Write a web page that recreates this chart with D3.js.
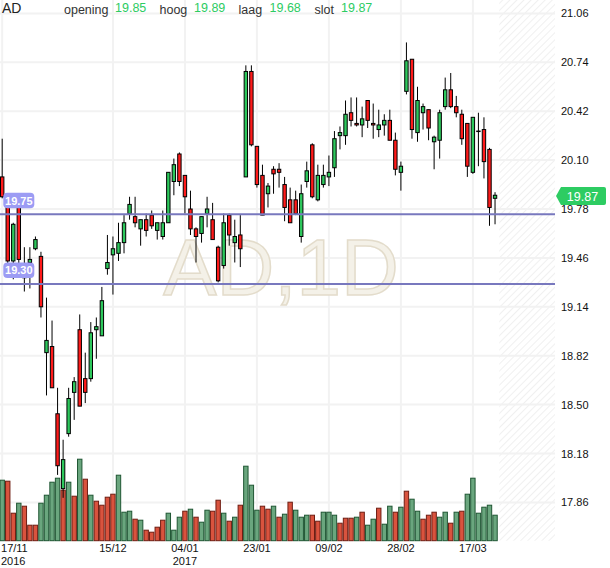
<!DOCTYPE html>
<html>
<head>
<meta charset="utf-8">
<script src="https://cdn.jsdelivr.net/npm/d3@7"></script>
<style>
  body { margin: 0; background: #fff; }
  svg { display: block; font-family: "Liberation Sans", Arial, sans-serif; }
</style>
</head>
<body>
<svg id="chart" width="610" height="568"></svg>
<script>
// daily candles, AD, 17/11/2016 .. 23/03/2017
const open = [19.99, 19.86, 19.44, 19.82, 19.36, 19.43, 19.52, 19.47, 18.84, 18.88,
  18.44, 17.95, 18.31, 18.58, 18.99, 18.67, 18.67, 18.99, 18.95, 19.39,
  19.48, 19.49, 19.56, 19.75, 19.73, 19.65, 19.71, 19.74, 19.64, 19.60,
  19.69, 19.96, 20.14, 20.00, 19.78, 19.65, 19.62, 19.75, 19.71, 19.53,
  19.41, 19.74, 19.56, 19.61, 19.99, 20.68, 20.19, 20.00, 19.88, 20.04,
  20.04, 19.94, 19.84, 19.84, 19.60, 19.96, 20.20, 19.84, 19.94, 19.99,
  20.05, 20.26, 20.26, 20.41, 20.34, 20.33, 20.49, 20.34, 20.30, 20.33,
  20.36, 20.23, 20.02, 20.55, 20.76, 20.28, 20.41, 20.43, 20.22, 20.23,
  20.45, 20.56, 20.45, 20.40, 20.34, 20.02, 20.29, 20.30, 20.17, 19.85];
const high = [20.24, 19.87, 19.69, 19.84, 19.53, 19.53, 19.60, 19.50, 19.20, 19.05,
  18.61, 18.27, 18.61, 18.68, 19.09, 18.84, 19.04, 19.07, 19.27, 19.61,
  19.60, 19.69, 19.74, 19.86, 19.86, 19.71, 19.75, 19.77, 19.69, 19.77,
  20.02, 20.11, 20.15, 20.00, 19.90, 19.66, 19.73, 19.86, 19.82, 19.54,
  19.75, 19.75, 19.71, 19.74, 20.72, 20.72, 20.19, 20.07, 19.95, 20.06,
  20.08, 19.99, 19.92, 19.90, 19.94, 20.09, 20.21, 20.07, 20.07, 20.13,
  20.29, 20.32, 20.49, 20.51, 20.51, 20.45, 20.49, 20.47, 20.43, 20.40,
  20.43, 20.28, 20.09, 20.87, 20.76, 20.58, 20.47, 20.43, 20.26, 20.43,
  20.64, 20.67, 20.52, 20.43, 20.34, 20.38, 20.41, 20.38, 20.18, 19.89];
const low = [19.85, 19.41, 19.32, 19.41, 19.24, 19.26, 19.51, 19.07, 18.56, 18.61,
  18.04, 17.89, 18.29, 18.40, 18.49, 18.51, 18.65, 18.80, 18.95, 19.35,
  19.22, 19.44, 19.49, 19.71, 19.66, 19.54, 19.60, 19.65, 19.58, 19.58,
  19.69, 19.87, 19.93, 19.75, 19.61, 19.43, 19.56, 19.66, 19.58, 19.30,
  19.39, 19.54, 19.43, 19.40, 19.99, 20.19, 19.92, 19.74, 19.79, 19.88,
  19.92, 19.70, 19.69, 19.74, 19.56, 19.92, 19.85, 19.83, 19.92, 19.93,
  19.99, 20.17, 20.20, 20.32, 20.32, 20.25, 20.31, 20.24, 20.25, 20.26,
  20.23, 20.00, 19.90, 20.53, 20.24, 20.22, 20.30, 20.23, 20.04, 20.11,
  20.43, 20.44, 20.38, 20.20, 19.99, 20.01, 20.06, 19.98, 19.67, 19.68];
const close = [19.86, 19.44, 19.68, 19.45, 19.33, 19.45, 19.58, 19.14, 18.92, 18.61,
  18.10, 18.14, 18.54, 18.65, 18.49, 18.58, 18.97, 19.01, 19.18, 19.43,
  19.52, 19.56, 19.69, 19.81, 19.69, 19.71, 19.64, 19.67, 19.69, 19.69,
  20.02, 20.07, 19.96, 19.86, 19.65, 19.60, 19.73, 19.78, 19.58, 19.31,
  19.69, 19.61, 19.60, 19.52, 20.68, 20.20, 19.94, 19.74, 19.93, 20.01,
  20.02, 19.79, 19.69, 19.75, 19.88, 20.03, 19.86, 20.00, 20.00, 20.02,
  20.24, 20.28, 20.40, 20.36, 20.33, 20.37, 20.36, 20.33, 20.33, 20.36,
  20.23, 20.04, 20.06, 20.75, 20.30, 20.49, 20.45, 20.31, 20.25, 20.41,
  20.56, 20.45, 20.41, 20.24, 20.06, 20.38, 20.29, 20.09, 19.79, 19.87];
// volume (millions) and bar colour as shown
const volume = [12.1, 11.9, 5.5, 7.5, 6.9, 3.1, 3.1, 7.5, 9.1, 11.7,
  12.5, 10.1, 11.7, 8.9, 16.3, 12.3, 9.1, 7.9, 7.1, 8.7,
  9.3, 13.1, 5.7, 5.9, 4.3, 4.1, 2.1, 1.7, 2.7, 4.1,
  5.5, 2.1, 4.7, 5.9, 6.3, 4.7, 3.7, 6.1, 5.9, 8.1,
  5.5, 3.9, 4.7, 7.1, 14.9, 11.1, 6.1, 6.9, 6.3, 6.9,
  4.7, 5.3, 7.7, 6.1, 4.7, 5.1, 5.1, 3.9, 5.7, 5.7,
  5.1, 3.5, 4.5, 4.5, 4.7, 5.7, 3.1, 4.3, 6.5, 3.3,
  6.9, 5.7, 6.7, 9.9, 8.3, 5.9, 4.3, 5.1, 5.7, 4.7,
  5.7, 3.5, 5.7, 5.9, 9.3, 12.5, 5.5, 6.7, 7.1, 5.1];
const volUp = "urrurrruuuururururrrruuururrrruuururuurrururuuurrururuuurruuurrruruuruururuurrruururuuuuuuurr".slice(0, 90);

const priceTicks = [17.86, 18.18, 18.50, 18.82, 19.14, 19.46, 19.78, 20.10, 20.42, 20.74, 21.06];
const dateTickIdx = [0, 20, 33, 46, 59, 72, 85];
const dateTickLabels = ["17/11", "15/12", "04/01", "23/01", "09/02", "28/02", "17/03"];
const yearTicks = [[0, "2016"], [33, "2017"]];
const levels = [19.745, 19.29];
const levelLabels = ["19.75", "19.30"];
const symbol = "AD";
const watermark = "AD,1D";

const green = "#2dc85c", red = "#ff1a1a";
const svg = d3.select("#chart");
const plotRight = 555, volBase = 540.7;

const x = d3.scaleBand().domain(d3.range(open.length)).range([-0.57, 497.8]);
const cx = (i) => x(i) + x.bandwidth() / 2;
const y = d3.scaleLinear().domain([17.86, 21.06]).range([502.4, 13.4]);
const yVol = d3.scaleLinear().domain([0, 20]).range([volBase, volBase - 100]);

// hatched "future" zone
const defs = svg.append("defs");
const pat = defs.append("pattern").attr("id", "hatch")
  .attr("patternUnits", "userSpaceOnUse").attr("width", 5).attr("height", 5)
  .attr("patternTransform", "rotate(45)");
pat.append("line").attr("x1", 0).attr("y1", 0).attr("x2", 0).attr("y2", 5)
  .attr("stroke", "#ededed").attr("stroke-width", 1.6);
svg.append("rect").attr("x", x.range()[1] + 1.5).attr("y", 0)
  .attr("width", plotRight - x.range()[1] - 1.5).attr("height", volBase)
  .attr("fill", "url(#hatch)");

// grid
svg.append("g").selectAll("line").data(priceTicks).join("line")
  .attr("x1", 0).attr("x2", plotRight)
  .attr("y1", (d) => y(d)).attr("y2", (d) => y(d))
  .attr("stroke", "#f2f2f2").attr("stroke-width", 2);
svg.append("g").selectAll("line").data(dateTickIdx).join("line")
  .attr("x1", (d) => cx(d)).attr("x2", (d) => cx(d))
  .attr("y1", 0).attr("y2", volBase)
  .attr("stroke", "#f2f2f2").attr("stroke-width", 2);

// watermark
svg.append("text").attr("x", 281).attr("y", 295)
  .attr("text-anchor", "middle").attr("font-size", 80)
  .attr("fill", "#f4f1e8").attr("stroke", "#e3dccb").attr("stroke-width", 1.5)
  .text(watermark);

// volume
svg.append("g").selectAll("rect").data(volume).join("rect")
  .attr("x", (d, i) => cx(i) - 2.2)
  .attr("y", (d) => yVol(d))
  .attr("width", 4.4)
  .attr("height", (d) => yVol(0) - yVol(d))
  .attr("fill", (d, i) => volUp[i] === "u" ? "#6aa67e" : "#d9533e")
  .attr("stroke", (d, i) => volUp[i] === "u" ? "#1f5633" : "#6e1d12")
  .attr("stroke-width", 1);

// candles
const idx = d3.range(open.length);
svg.append("g").selectAll("line").data(idx).join("line")
  .attr("x1", (i) => cx(i)).attr("x2", (i) => cx(i))
  .attr("y1", (i) => y(high[i])).attr("y2", (i) => y(low[i]))
  .attr("stroke", "#000").attr("stroke-width", 1);
svg.append("g").selectAll("rect").data(idx).join("rect")
  .attr("x", (i) => cx(i) - 1.7)
  .attr("y", (i) => y(Math.max(open[i], close[i])))
  .attr("width", 3.4)
  .attr("height", (i) => Math.max(0.5, Math.abs(y(open[i]) - y(close[i]))))
  .attr("fill", (i) => close[i] >= open[i] ? green : red)
  .attr("stroke", "#000").attr("stroke-width", 1);

// horizontal levels
svg.append("g").selectAll("line").data(levels).join("line")
  .attr("x1", 0).attr("x2", plotRight)
  .attr("y1", (d) => y(d)).attr("y2", (d) => y(d))
  .attr("stroke", "#7878be").attr("stroke-width", 2);
const lv = svg.append("g").selectAll("g").data(levels).join("g")
  .attr("transform", (d) => `translate(3.3,${y(d) - 21.5})`);
lv.append("rect").attr("width", 31).attr("height", 15.5).attr("rx", 4)
  .attr("fill", "#9c9cf4");
lv.append("text").attr("x", 15.5).attr("y", 12).attr("text-anchor", "middle")
  .attr("font-size", 11).attr("font-weight", "bold").attr("fill", "#fff")
  .text((d, i) => levelLabels[i]);

// right price axis
svg.append("g").attr("transform", `translate(${plotRight},0)`)
  .call(d3.axisRight(y).tickValues(priceTicks).tickSize(0).tickPadding(6)
    .tickFormat(d3.format(".2f")))
  .call((g) => g.select(".domain").remove())
  .call((g) => g.selectAll("text").attr("font-size", 11).attr("fill", "#111")
    .attr("font-family", "'Liberation Sans', Arial, sans-serif"));

// bottom date axis
const xAxisG = svg.append("g").attr("transform", `translate(0,${volBase})`)
  .call(d3.axisBottom(x).tickValues(dateTickIdx).tickSize(0).tickPadding(3.6)
    .tickFormat((d, i) => dateTickLabels[i]))
  .call((g) => g.select(".domain").remove())
  .call((g) => g.selectAll("text").attr("font-size", 11).attr("fill", "#111")
    .attr("font-family", "'Liberation Sans', Arial, sans-serif"));
xAxisG.selectAll(".tick").filter((d) => d === 0).select("text")
  .attr("text-anchor", "start").attr("x", 1 - cx(0));
svg.append("g").selectAll("text").data(yearTicks).join("text")
  .attr("x", (d) => d[0] === 0 ? 1 : cx(d[0]))
  .attr("y", 564.6)
  .attr("text-anchor", (d) => d[0] === 0 ? "start" : "middle")
  .attr("font-size", 11).attr("fill", "#111")
  .text((d) => d[1]);

// header
const last = open.length - 1;
const fmt = d3.format(".2f");
svg.append("text").attr("x", 2).attr("y", 13).attr("font-size", 14)
  .attr("fill", "#222").text(symbol);
const header = [
  ["opening", open[last], 64, 115],
  ["hoog", high[last], 159.5, 194],
  ["laag", low[last], 238.5, 269.5],
  ["slot", close[last], 314.5, 341]
];
const hg = svg.append("g").selectAll("g").data(header).join("g");
hg.append("text").attr("x", (d) => d[2]).attr("y", 14).attr("font-size", 12.5)
  .attr("fill", "#333").text((d) => d[0]);
hg.append("text").attr("x", (d) => d[3]).attr("y", 12).attr("font-size", 12.5)
  .attr("fill", "#2dcc62").text((d) => fmt(d[1]));

// last price badge
const py = y(close[last]) + 0.8;
svg.append("path")
  .attr("d", `M556,${py} L561,${py - 9} H604 Q606,${py - 9} 606,${py - 7} V${py + 7} Q606,${py + 9} 604,${py + 9} H561 Z`)
  .attr("fill", "#2dcc62");
svg.append("text").attr("x", 582.5).attr("y", py + 4.5).attr("text-anchor", "middle")
  .attr("font-size", 12.5).attr("fill", "#fff").text(fmt(close[last]));
</script>
</body>
</html>
